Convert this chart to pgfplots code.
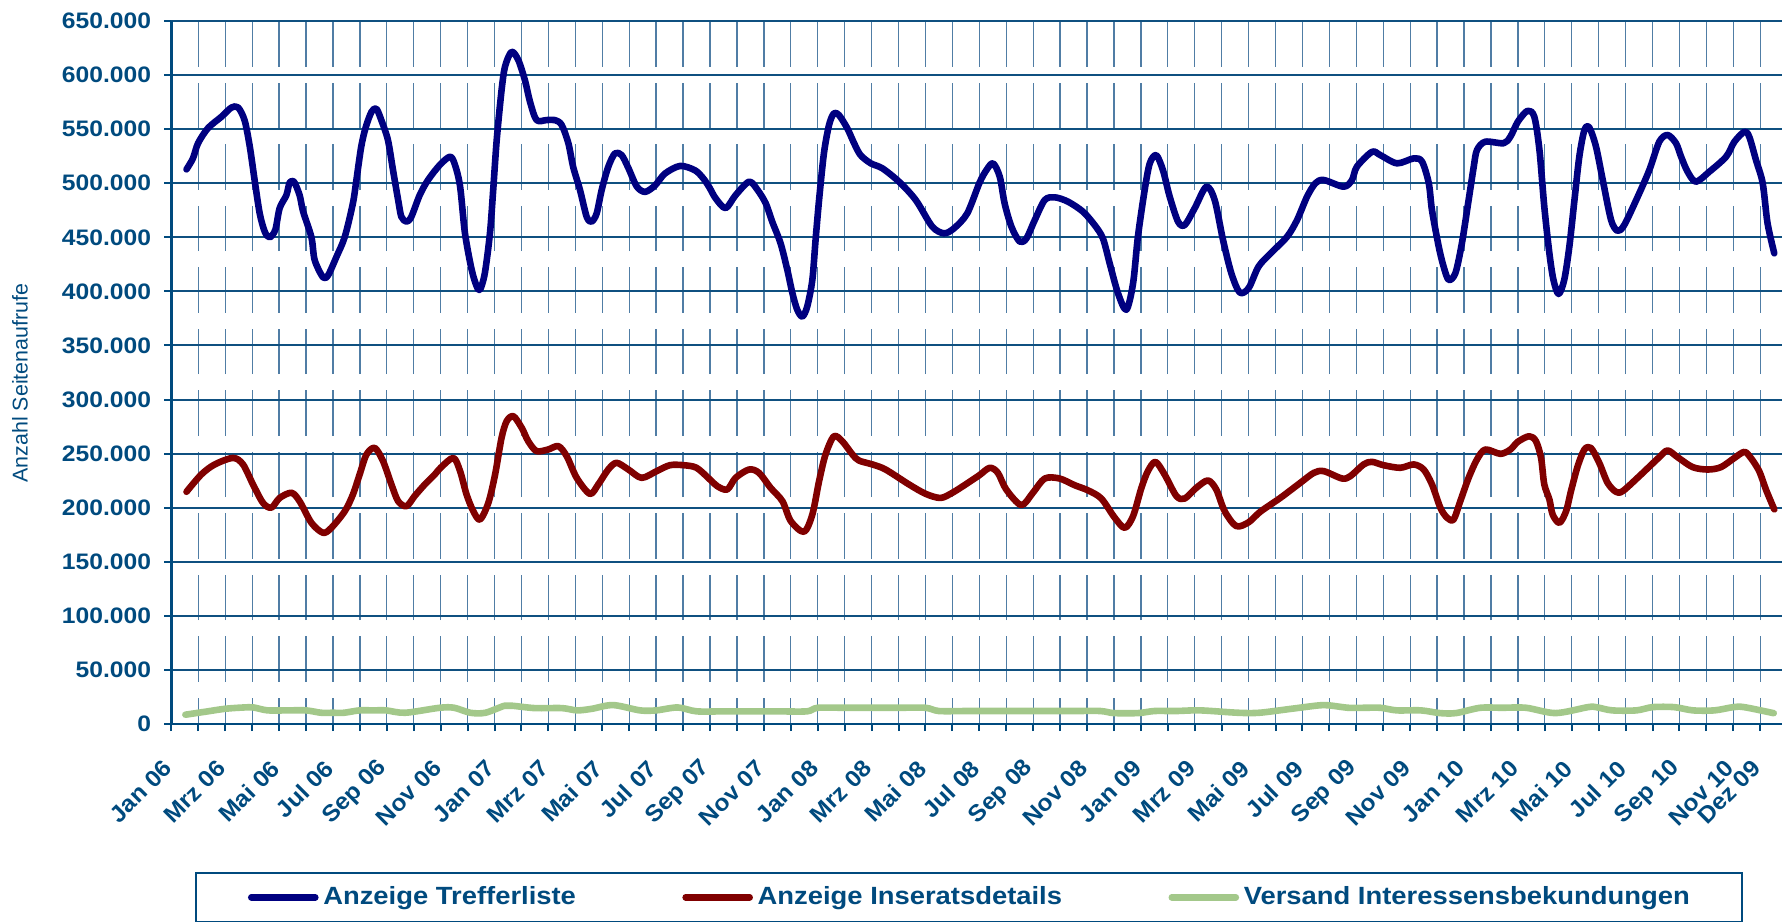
\documentclass[border=0pt]{standalone}
\usepackage{fontspec}
\setmainfont{Liberation Sans}
\usepackage{graphicx}
\usepackage{pgfplots}
\pgfplotsset{compat=1.18}
\definecolor{txt}{RGB}{0,74,126}
\definecolor{hgrid}{RGB}{15,80,128}
\definecolor{vgrid}{RGB}{80,125,165}
\definecolor{sblue}{RGB}{0,0,128}
\definecolor{sred}{RGB}{128,0,0}
\definecolor{sgreen}{RGB}{163,200,138}
\newcommand{\sx}[1]{\scalebox{1.1}[1]{#1}}
\newcommand{\sxx}[1]{\scalebox{1.06}[1]{#1}}
\begin{document}
\begin{tikzpicture}
\useasboundingbox (-85.7pt,-98.5pt) rectangle (805.3pt,362pt);
\clip (-85.7pt,-98.5pt) rectangle (805.3pt,362pt);
\begin{axis}[
  at={(0,0)}, anchor=south west,
  scale only axis, width=807.9pt, height=351.5pt,
  xmin=0, xmax=60, ymin=0, ymax=650000,
  axis lines*=left,
  axis line style={txt, line width=1.3pt},
  tick align=outside,
  major tick length=3.5pt, minor tick length=3.5pt,
  ytick={0,50000,100000,150000,200000,250000,300000,350000,400000,450000,500000,550000,600000,650000},
  yticklabels={\sx{0},\sx{50.000},\sx{100.000},\sx{150.000},\sx{200.000},\sx{250.000},\sx{300.000},\sx{350.000},\sx{400.000},\sx{450.000},\sx{500.000},\sx{550.000},\sx{600.000},\sx{650.000}},
  xtick={0.5,2.5,4.5,6.5,8.5,10.5,12.5,14.5,16.5,18.5,20.5,22.5,24.5,26.5,28.5,30.5,32.5,34.5,36.5,38.5,40.5,42.5,44.5,46.5,48.5,50.5,52.5,54.5,56.5,58.5,59.5},
  xticklabels={\sxx{Jan 06},\sxx{Mrz 06},\sxx{Mai 06},\sxx{Jul 06},\sxx{Sep 06},\sxx{Nov 06},\sxx{Jan 07},\sxx{Mrz 07},\sxx{Mai 07},\sxx{Jul 07},\sxx{Sep 07},\sxx{Nov 07},\sxx{Jan 08},\sxx{Mrz 08},\sxx{Mai 08},\sxx{Jul 08},\sxx{Sep 08},\sxx{Nov 08},\sxx{Jan 09},\sxx{Mrz 09},\sxx{Mai 09},\sxx{Jul 09},\sxx{Sep 09},\sxx{Nov 09},\sxx{Jan 10},\sxx{Mrz 10},\sxx{Mai 10},\sxx{Jul 10},\sxx{Sep 10},\sxx{Nov 10},\sxx{Dez 09}},
  minor xtick={0,1,...,60},
  major x tick style={draw=none},
  minor x tick style={txt, line width=1pt},
  major y tick style={txt, line width=1pt},
  ymajorgrids, xminorgrids,
  major grid style={hgrid, line width=1pt},
  minor grid style={vgrid, line width=0.65pt, dash pattern=on 22.75pt off 8pt, dash phase=9.6pt},
  yticklabel style={font=\bfseries\fontsize{11.2pt}{13pt}\selectfont, text=txt, inner sep=0pt, anchor=east, xshift=-6.5pt},
  xticklabel style={xshift=-8.4pt, yshift=-16.6pt, font=\bfseries\fontsize{11.6pt}{13pt}\selectfont, text=txt, inner sep=0pt, rotate=45, anchor=east},
  ylabel={Anzahl Seitenaufrufe},
  ylabel style={at={(axis description cs:-0.0937,0.485)}, anchor=center, font=\fontsize{10.7pt}{12pt}\selectfont, text=txt},
  legend columns=3,
  legend style={at={(axis description cs:0.0146,-0.2105)}, anchor=north west, draw=txt, line width=1pt, inner xsep=26pt, inner ysep=6.9pt, font=\bfseries\fontsize{12.45pt}{15pt}\selectfont, text=txt, nodes={inner sep=0pt}, /tikz/every odd column/.append style={column sep=2.35pt}, /tikz/every even column/.append style={column sep=53.2pt}},
  legend image code/.code={\draw[#1, line cap=round] (0pt,0pt) -- (32pt,0pt);},
  every axis plot/.append style={line join=round, line cap=round, smooth, tension=0.5},
]
\addplot[sblue, line width=3.3pt] coordinates {
(0.56,512800)(0.80,523000)(0.99,537000)(1.36,551000)(1.86,561500)(2.23,570000)(2.48,570000)(2.72,558000)(2.91,534000)(3.09,503000)(3.28,472000)(3.47,455000)(3.65,450000)(3.86,457000)(4.02,477000)(4.27,489000)(4.39,500500)(4.55,501500)(4.76,489000)(4.89,474000)(5.20,450000)(5.32,429000)(5.63,413000)(5.82,415000)(6.13,432000)(6.44,450600)(6.74,481500)(6.87,503000)(7.05,534000)(7.22,552000)(7.43,566000)(7.61,569000)(7.80,558000)(8.04,540000)(8.23,512000)(8.42,484500)(8.54,469000)(8.73,464500)(8.91,469000)(9.22,489000)(9.53,503000)(9.97,517000)(10.35,524500)(10.53,517000)(10.72,497000)(10.90,454000)(11.15,420000)(11.34,404500)(11.46,401500)(11.64,417000)(11.83,454000)(11.95,494000)(12.08,540000)(12.26,586000)(12.39,608000)(12.63,621500)(12.88,614000)(13.13,595000)(13.32,575000)(13.56,558400)(13.93,558400)(14.24,558400)(14.49,554000)(14.74,537000)(14.92,515000)(15.17,494000)(15.42,469000)(15.60,464500)(15.79,472000)(15.98,494000)(16.22,515000)(16.47,527600)(16.72,526000)(16.97,514000)(17.28,497000)(17.59,492000)(17.96,498000)(18.33,509000)(18.89,516000)(19.44,512000)(19.75,504500)(19.98,496000)(20.21,486000)(20.58,477000)(20.95,489000)(21.45,501400)(21.76,494000)(22.07,481400)(22.31,464500)(22.62,444500)(22.87,420000)(23.06,398300)(23.24,383000)(23.43,376700)(23.61,386000)(23.80,410600)(23.92,447500)(24.05,484500)(24.23,527600)(24.42,553800)(24.60,564600)(24.79,563000)(25.10,550700)(25.35,537000)(25.59,526000)(25.97,518400)(26.40,513800)(27.02,501400)(27.64,484500)(28.25,460000)(28.69,453700)(29.06,458300)(29.55,472000)(30.00,500000)(30.26,512000)(30.51,518400)(30.76,506000)(30.94,481400)(31.19,460000)(31.50,446000)(31.75,449000)(32.06,466000)(32.43,484500)(32.80,487000)(33.29,483000)(33.85,473700)(34.28,461400)(34.59,449000)(34.84,426000)(35.15,398300)(35.46,383000)(35.71,407500)(35.89,450600)(36.14,493700)(36.33,518400)(36.57,526000)(36.82,512000)(37.07,487600)(37.38,464500)(37.63,461400)(38.00,477000)(38.43,496800)(38.74,484500)(39.05,447500)(39.36,416700)(39.67,399000)(40.00,403000)(40.37,423000)(40.81,435000)(41.43,450600)(41.80,466000)(42.17,487600)(42.48,500000)(42.79,503000)(43.53,496800)(43.84,503000)(44.02,515300)(44.58,529000)(44.89,526000)(45.51,518400)(46.13,523000)(46.44,520000)(46.69,500000)(46.81,475000)(47.06,441400)(47.24,423000)(47.43,410600)(47.68,417000)(47.92,444500)(48.17,484500)(48.36,515300)(48.48,530700)(48.79,538400)(49.47,537000)(49.72,543000)(50.00,557000)(50.36,567000)(50.61,561400)(50.80,530700)(50.98,478300)(51.17,435000)(51.32,410600)(51.51,397600)(51.72,410600)(51.91,441400)(52.10,484500)(52.28,524500)(52.47,549200)(52.65,551600)(52.90,533800)(53.15,503000)(53.46,466000)(53.70,456000)(53.95,461400)(54.45,487600)(54.88,512200)(55.25,538400)(55.56,544600)(55.87,537000)(56.06,524500)(56.30,510700)(56.61,501400)(57.11,510700)(57.73,524500)(58.04,538400)(58.41,547600)(58.59,543000)(58.84,521500)(59.09,500000)(59.27,463000)(59.52,435200)
};
\addlegendentry{\sx{Anzeige Trefferliste}\rule[-14pt]{0pt}{1pt}}
\addplot[sred, line width=3.3pt] coordinates {
(0.56,214700)(1.11,230700)(1.61,240000)(2.29,246000)(2.66,240000)(3.03,221500)(3.40,204500)(3.71,200000)(4.02,209000)(4.46,213800)(4.76,206000)(5.20,186000)(5.63,176800)(5.94,181400)(6.44,196800)(6.74,212200)(6.99,230700)(7.24,249000)(7.55,255300)(7.86,243000)(8.17,221500)(8.42,206000)(8.73,201400)(9.03,210700)(9.41,221500)(9.78,230700)(10.00,237000)(10.47,246000)(10.72,233800)(10.96,212200)(11.21,196800)(11.46,189000)(11.77,204500)(12.02,230700)(12.26,264600)(12.45,280000)(12.70,284600)(13.01,273800)(13.25,261500)(13.56,252300)(13.99,253800)(14.37,256900)(14.68,247600)(15.05,227600)(15.54,212800)(15.85,221500)(16.22,235300)(16.53,241500)(16.97,235300)(17.46,227600)(18.02,233800)(18.51,239300)(19.01,239300)(19.50,236900)(20.00,226000)(20.27,219900)(20.64,216800)(20.95,227600)(21.45,235300)(21.82,232200)(22.25,218400)(22.69,206000)(23.00,187600)(23.49,177700)(23.80,193700)(24.05,224500)(24.29,249200)(24.60,266000)(24.91,261500)(25.29,249200)(25.53,243600)(26.03,240000)(26.52,235300)(27.39,221500)(28.01,212800)(28.56,209000)(29.00,213800)(29.49,221500)(30.00,230000)(30.39,236900)(30.69,232200)(31.00,216800)(31.56,202400)(31.99,213800)(32.43,227000)(32.98,227000)(33.54,220800)(34.04,216000)(34.53,208500)(35.03,190700)(35.40,181400)(35.71,192200)(36.02,218400)(36.26,233800)(36.54,242400)(36.88,230700)(37.32,210700)(37.63,208500)(38.06,218400)(38.49,225200)(38.80,216800)(39.11,196800)(39.54,183000)(40.00,186500)(40.43,196200)(41.18,209100)(41.92,223000)(42.42,232200)(42.79,233800)(43.47,227000)(43.78,229200)(44.27,240000)(44.58,242400)(45.01,239300)(45.63,236900)(46.13,240000)(46.50,235300)(46.81,221500)(47.12,200000)(47.37,190700)(47.61,189000)(47.86,206000)(48.17,227600)(48.48,244600)(48.79,253800)(49.35,249800)(49.72,253800)(50.00,261000)(50.42,266100)(50.67,261500)(50.86,246000)(50.98,221500)(51.17,207600)(51.29,193700)(51.54,186000)(51.79,196800)(51.97,215300)(52.22,238400)(52.47,253800)(52.71,255300)(53.02,241500)(53.33,223000)(53.64,214700)(53.89,215300)(54.51,229200)(55.25,246700)(55.56,252900)(55.93,246700)(56.49,237500)(57.05,235300)(57.54,237500)(58.04,246000)(58.41,251600)(58.65,246000)(58.96,233800)(59.21,216800)(59.52,198400)
};
\addlegendentry{\sx{Anzeige Inseratsdetails}}
\addplot[sgreen, line width=3.3pt] coordinates {
(0.52,8600)(1.3,11500)(2.0,14100)(2.7,15300)(3.05,15300)(3.57,12600)(4.3,12600)(5.0,12600)(5.56,10400)(6.0,10400)(6.41,10400)(6.98,12600)(7.5,12600)(7.97,12600)(8.68,10400)(9.96,15000)(10.5,15000)(11.1,10400)(11.66,10400)(12.37,16900)(12.65,16900)(13.5,14700)(14.5,14700)(15.06,12600)(15.6,14000)(16.4,17500)(17.4,12600)(18.0,12600)(18.8,15300)(19.5,11700)(20.5,11700)(21.5,11700)(22.5,11700)(23.6,11700)(24.0,15000)(25,15000)(26,15000)(27,15000)(28.0,15000)(28.5,12000)(29.5,12000)(30.5,12000)(31.5,12000)(32.5,12000)(33.5,12000)(34.5,12000)(35.0,10100)(35.9,10100)(36.5,12000)(37.3,12000)(38.2,12600)(39.6,10400)(40.4,10400)(41.6,14100)(42.6,17200)(43.0,17200)(43.7,15000)(44.3,15000)(44.9,15000)(45.5,12600)(46.4,12600)(47.1,10100)(47.7,10100)(48.6,15000)(49.4,15000)(50.3,15000)(51.4,10100)(52.6,15600)(52.9,15600)(53.5,12600)(54.4,12600)(55.0,15600)(55.8,15600)(56.5,12600)(57.3,12600)(58.0,15600)(58.4,15600)(59.5,10000)
};
\addlegendentry{\sx{Versand Interessensbekundungen}}
\end{axis}
\end{tikzpicture}
\end{document}
